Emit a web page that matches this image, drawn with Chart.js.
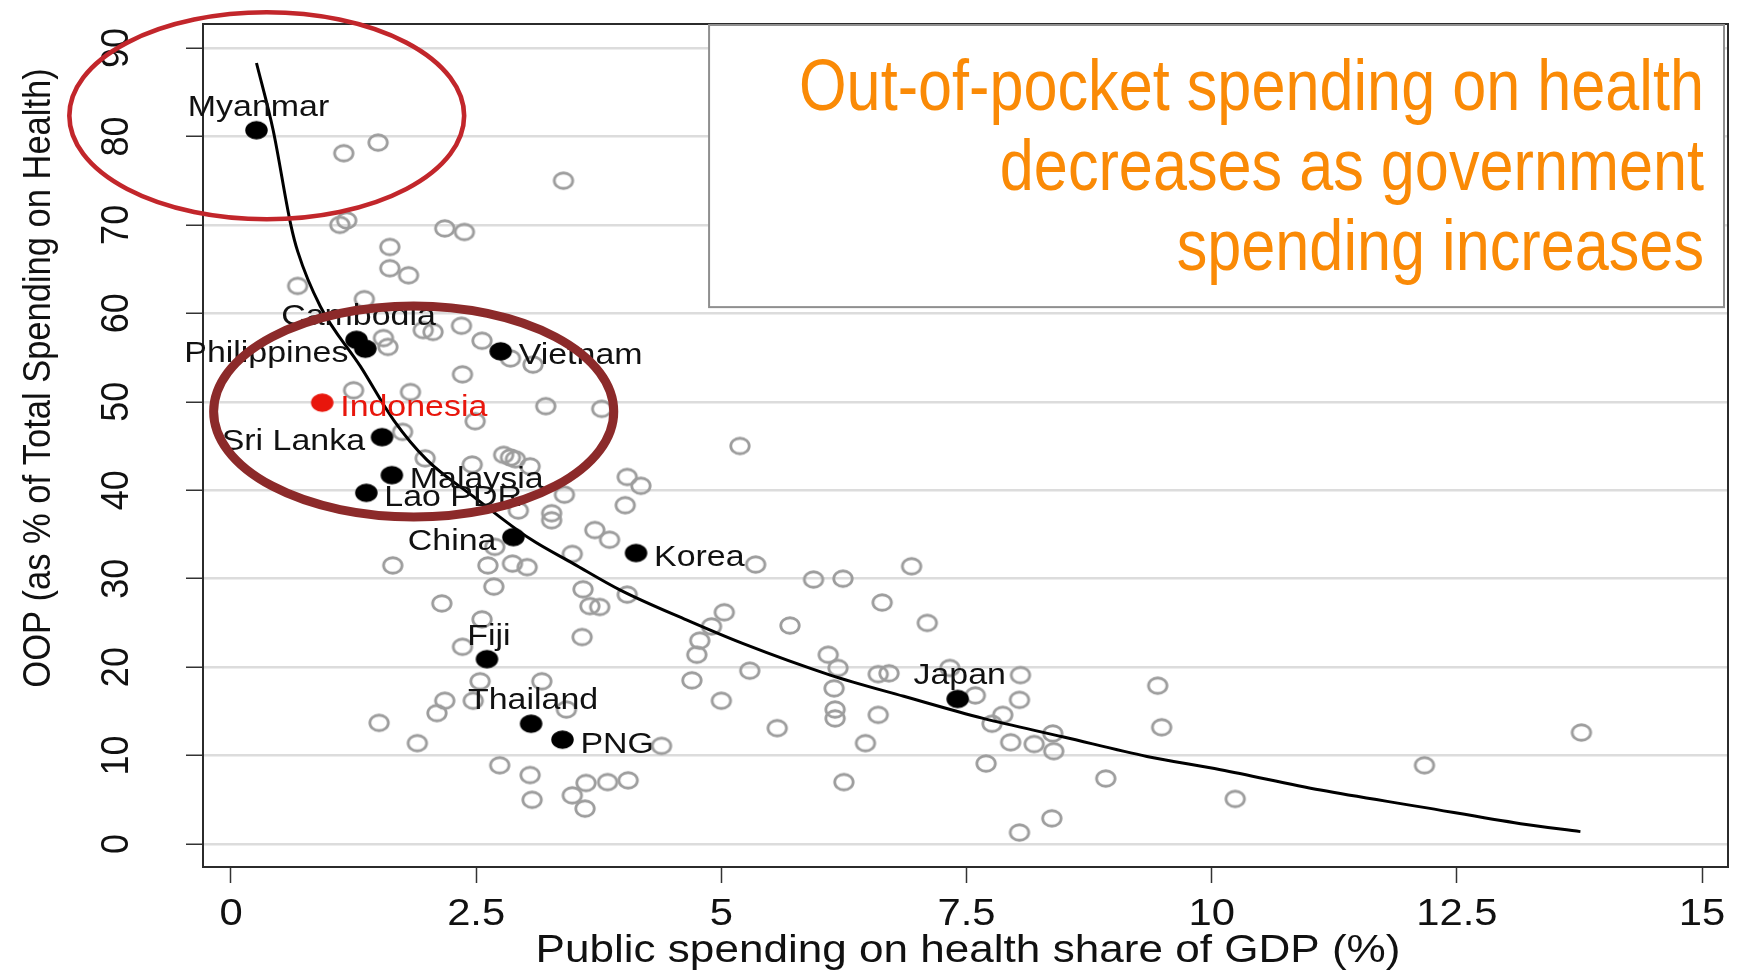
<!DOCTYPE html>
<html>
<head>
<meta charset="utf-8">
<title>Out-of-pocket vs public spending on health</title>
<script src="https://cdn.jsdelivr.net/npm/chart.js@4.4.1/dist/chart.umd.min.js"></script>
<style>
  html, body { margin: 0; padding: 0; background: #fff; }
  #wrap { width: 1739px; height: 973px; }
</style>
</head>
<body>
<div id="wrap"><canvas id="chart" width="1739" height="973"></canvas></div>
<script>
// All other countries (open circles): public spending % GDP vs OOP %
const otherX = [1.15, 1.50, 3.39, 1.11, 1.18, 2.18, 2.38, 1.62, 1.62, 1.81, 0.68, 1.36, 1.555, 1.60, 1.96, 2.06,
  2.35, 2.56, 2.85, 3.08, 2.36, 1.25, 1.83, 2.49, 3.21, 3.78, 1.75, 5.19, 1.98, 2.78, 2.85, 2.90, 2.46, 3.05,
  4.04, 4.18, 3.40, 4.02, 2.93, 3.27, 3.27, 3.71, 3.86, 2.69, 3.48, 1.65, 2.62, 2.87, 3.02, 5.35, 5.94, 6.24,
  6.94, 2.68, 3.59, 4.04, 2.15, 3.66, 3.76, 6.64, 5.03, 2.56, 4.90, 5.70, 7.10, 3.58, 4.78, 2.36, 4.75, 6.09,
  6.19, 5.29, 6.60, 6.71, 7.33, 8.05, 4.70, 2.54, 3.17, 9.45, 6.15, 7.59, 8.04, 2.18, 2.47, 5.00, 3.42, 2.10,
  6.16, 6.16, 6.60, 7.87, 7.76, 1.51, 5.57, 9.49, 8.38, 1.90, 4.39, 6.47, 7.95, 8.19, 8.39, 2.74, 7.70, 12.17,
  3.05, 3.62, 3.84, 4.05, 6.25, 8.92, 3.48, 3.07, 10.24, 3.61, 8.37, 8.04, 13.77];
const otherY = [78.1, 79.3, 75.0, 70.0, 70.5, 69.6, 69.2, 67.5, 65.1, 64.3, 63.1, 61.6, 57.2, 56.2, 58.1, 57.9,
  58.6, 56.9, 54.9, 54.2, 53.1, 51.3, 51.1, 47.8, 49.5, 49.2, 46.6, 45.0, 43.6, 44.0, 43.7, 43.5, 42.9, 42.7,
  41.5, 40.5, 39.5, 38.3, 37.7, 37.4, 36.6, 35.5, 34.4, 33.6, 32.8, 31.5, 31.5, 31.7, 31.3, 31.6, 29.9, 30.0,
  31.4, 29.1, 28.8, 28.2, 27.2, 26.9, 26.8, 27.3, 26.2, 25.4, 24.6, 24.7, 25.0, 23.4, 23.0, 22.3, 21.4, 21.4,
  19.9, 19.6, 19.2, 19.3, 19.9, 19.1, 18.5, 18.4, 18.4, 17.9, 17.6, 16.8, 16.3, 16.2, 16.2, 16.2, 15.2, 14.8,
  15.2, 14.2, 14.6, 14.6, 13.6, 13.7, 13.1, 13.2, 12.5, 11.4, 11.1, 11.4, 11.5, 11.3, 10.5, 8.9, 9.1, 8.9,
  7.8, 6.9, 7.0, 7.2, 7.0, 7.4, 5.5, 5.0, 5.1, 4.0, 2.9, 1.3, 12.6];

// Highlighted Asia-Pacific countries (black dots)
const countryNames = ['Myanmar', 'Cambodia', 'Philippines', 'Vietnam', 'Sri Lanka', 'Malaysia', 'Lao PDR',
  'China', 'Korea', 'Fiji', 'Thailand', 'PNG', 'Japan'];
const countryX = [0.26, 1.28, 1.37, 2.75, 1.54, 1.64, 1.38, 2.88, 4.13, 2.61, 3.06, 3.38, 7.41];
const countryY = [80.7, 57.0, 56.0, 55.7, 46.0, 41.7, 39.7, 34.7, 32.9, 20.9, 13.6, 11.8, 16.4];

// Indonesia (red)
const indoNames = ['Indonesia'];
const indoX = [0.93];
const indoY = [49.9];

// Fitted curve
const fitX = [0.26, 0.43, 0.61, 0.68, 0.91, 1.32, 1.66, 2.0, 2.47, 3.05, 3.49, 3.97, 4.65, 5.21, 6.11, 6.86,
  7.67, 8.49, 9.34, 10.09, 11.11, 12.13, 13.15, 13.76];
const fitY = [88.3, 80.7, 70.0, 67.0, 60.8, 54.0, 47.9, 43.4, 39.3, 34.5, 31.7, 28.7, 25.3, 22.7, 19.1, 16.7,
  14.2, 12.1, 9.9, 8.4, 6.1, 4.2, 2.3, 1.4];

const xTicks = [0, 2.5, 5, 7.5, 10, 12.5, 15];
const yTicks = [0, 10, 20, 30, 40, 50, 60, 70, 80, 90];
const xTitle = 'Public spending on health share of GDP (%)';
const yTitle = 'OOP (as % of Total Spending on Health)';
const boxLines = ['Out-of-pocket spending on health', 'decreases as government', 'spending increases'];

// label placement for each highlighted country
const labelSide = {
  'Myanmar': 'top', 'Cambodia': 'top', 'Philippines': 'left', 'Vietnam': 'right', 'Sri Lanka': 'left',
  'Malaysia': 'right', 'Lao PDR': 'right', 'China': 'left', 'Korea': 'right', 'Fiji': 'top',
  'Thailand': 'top', 'PNG': 'right', 'Japan': 'top', 'Indonesia': 'right'
};

const FONT = '"Liberation Sans", Arial, Helvetica, sans-serif';
const RED = '#e8160c';
const ORANGE = '#fa8a06';

function ellipseMarker(w, h, fill, stroke, lw) {
  const c = document.createElement('canvas');
  c.width = Math.ceil(w + lw + 2);
  c.height = Math.ceil(h + lw + 2);
  const g = c.getContext('2d');
  g.beginPath();
  g.ellipse(c.width / 2, c.height / 2, w / 2, h / 2, 0, 0, Math.PI * 2);
  if (fill) { g.fillStyle = fill; g.fill(); }
  if (stroke) { g.strokeStyle = stroke; g.lineWidth = lw; g.stroke(); }
  return c;
}

const openCircle = ellipseMarker(18.5, 15.5, null, '#9d9d9d', 2.8);
const blackDot = ellipseMarker(22.5, 18.5, '#000', null, 0);
const redDot = ellipseMarker(22.5, 18.5, RED, null, 0);

const toPoints = (xs, ys) => xs.map((x, i) => ({ x: x, y: ys[i] }));

// text stretched horizontally (the source image is a bit wide)
function stretchText(ctx, text, x, y, align, sx, rotated) {
  ctx.save();
  ctx.translate(x, y);
  if (rotated) {
    ctx.rotate(-Math.PI / 2);
    ctx.scale(1, sx);
  } else {
    ctx.scale(sx, 1);
  }
  ctx.textAlign = align;
  ctx.textBaseline = 'alphabetic';
  ctx.fillText(text, 0, 0);
  ctx.restore();
}

function drawEllipse(ctx, xs, ys, cx, cy, rx, ry, color, lw) {
  const px = xs.getPixelForValue(cx);
  const py = ys.getPixelForValue(cy);
  const prx = xs.getPixelForValue(cx + rx) - px;
  const pry = py - ys.getPixelForValue(cy + ry);
  ctx.save();
  ctx.beginPath();
  ctx.ellipse(px, py, prx, pry, 0, 0, Math.PI * 2);
  ctx.strokeStyle = color;
  ctx.lineWidth = lw;
  ctx.stroke();
  ctx.restore();
}

const decor = {
  id: 'decor',
  beforeDatasetsDraw(chart) {
    const { ctx, chartArea: a } = chart;
    ctx.save();
    ctx.strokeStyle = '#2b2b2b';
    ctx.lineWidth = 2;
    ctx.strokeRect(a.left, a.top, a.right - a.left, a.bottom - a.top);
    ctx.restore();
  },
  afterDatasetsDraw(chart) {
    const { ctx, chartArea: a } = chart;
    const xs = chart.scales.x;
    const ys = chart.scales.y;

    // country labels
    ctx.save();
    ctx.font = '29px ' + FONT;
    const offsets = { right: [18, 13, 'left'], left: [-17, 13, 'right'], top: [2, -14.5, 'center'] };
    [[1, countryNames, '#111'], [2, indoNames, RED]].forEach(([idx, names, color]) => {
      chart.getDatasetMeta(idx).data.forEach((pt, i) => {
        const o = offsets[labelSide[names[i]]];
        ctx.fillStyle = color;
        stretchText(ctx, names[i], pt.x + o[0], pt.y + o[1], o[2], 1.17, false);
      });
    });
    ctx.restore();

    // tick labels
    ctx.save();
    ctx.fillStyle = '#111';
    ctx.font = '36px ' + FONT;
    xs.ticks.forEach(t => {
      stretchText(ctx, String(t.value), xs.getPixelForValue(t.value), a.bottom + 58, 'center', 1.16, false);
    });
    ys.ticks.forEach(t => {
      stretchText(ctx, String(t.value), a.left - 75, ys.getPixelForValue(t.value), 'center', 1.1, true);
    });

    // axis titles
    ctx.font = '38px ' + FONT;
    stretchText(ctx, xTitle, 968, a.bottom + 95, 'center', 1.16, false);
    ctx.font = '34.5px ' + FONT;
    stretchText(ctx, yTitle, 50, 378, 'center', 1.1, true);
    ctx.restore();

    // headline box
    const bl = xs.getPixelForValue(4.875);
    const bt = a.top + 1;
    const br = a.right - 4;
    const bb = ys.getPixelForValue(60.7);
    ctx.save();
    ctx.fillStyle = '#fff';
    ctx.fillRect(bl, bt, br - bl, bb - bt);
    ctx.strokeStyle = '#8f8f8f';
    ctx.lineWidth = 2;
    ctx.strokeRect(bl, bt, br - bl, bb - bt);
    ctx.fillStyle = ORANGE;
    ctx.font = '72px ' + FONT;
    boxLines.forEach((line, i) => {
      stretchText(ctx, line, br - 20, a.top + 86 + i * 80, 'right', 0.85, false);
    });
    ctx.restore();

    // hand-drawn highlight ellipses
    drawEllipse(ctx, xs, ys, 0.3645, 82.33, 2.013, 11.70, '#c2262b', 4.6);
    drawEllipse(ctx, xs, ys, 1.863, 48.9, 2.04, 11.93, '#8c2a2a', 9);
  }
};

new Chart(document.getElementById('chart'), {
  type: 'scatter',
  data: {
    datasets: [
      {
        type: 'line',
        data: toPoints(fitX, fitY),
        borderColor: '#000',
        borderWidth: 3,
        pointRadius: 0,
        fill: false,
        cubicInterpolationMode: 'monotone'
      },
      { data: toPoints(countryX, countryY), pointStyle: blackDot, pointRadius: 10 },
      { data: toPoints(indoX, indoY), pointStyle: redDot, pointRadius: 10 },
      { data: toPoints(otherX, otherY), pointStyle: openCircle, pointRadius: 10 }
    ]
  },
  options: {
    responsive: false,
    animation: false,
    events: [],
    layout: { padding: { left: 0, top: 24, right: 11, bottom: 0 } },
    plugins: { legend: { display: false }, tooltip: { enabled: false } },
    scales: {
      x: {
        type: 'linear',
        min: -0.2855,
        max: 15.265,
        afterBuildTicks: s => { s.ticks = xTicks.map(v => ({ value: v })); },
        afterFit: s => { s.height = 106; },
        ticks: { display: false },
        grid: { drawOnChartArea: false, drawTicks: true, tickLength: 16, tickColor: '#333', tickWidth: 1.5 },
        border: { display: false }
      },
      y: {
        type: 'linear',
        min: -2.6,
        max: 92.71,
        afterBuildTicks: s => { s.ticks = yTicks.map(v => ({ value: v })); },
        afterFit: s => { s.width = 203; },
        ticks: { display: false },
        grid: { color: '#dcdcdc', lineWidth: 2.5, drawTicks: true, tickLength: 17, tickColor: '#333', tickWidth: 1.5 },
        border: { display: false }
      }
    }
  },
  plugins: [decor]
});
</script>
</body>
</html>
